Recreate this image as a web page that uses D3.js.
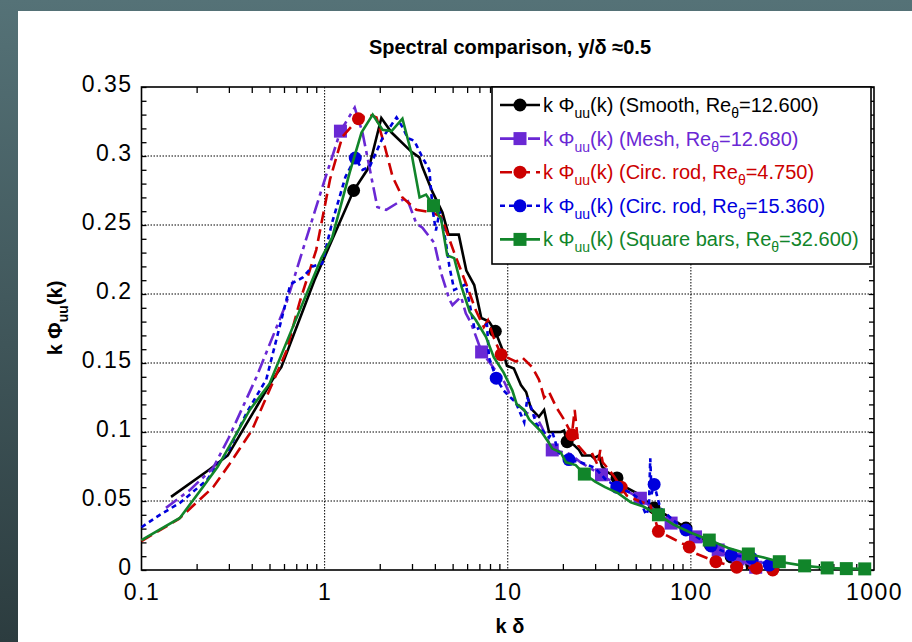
<!DOCTYPE html>
<html>
<head>
<meta charset="utf-8">
<script src="https://cdn.jsdelivr.net/npm/d3@7"></script>
<style>
  body { margin: 0; background: #3f5559; }
  svg { display: block; font-family: "Liberation Sans", Arial, sans-serif; }
</style>
</head>
<body>
<svg id="chart" width="912" height="642"></svg>
<script>
// data: [k delta, k*Phi_uu, marker?]
const smooth = [[0.145,0.053],[0.236,0.073],[0.296,0.083],[0.52,0.138],[0.58,0.147],[0.88,0.21],[1.44,0.275,1],[1.71,0.29],[1.78,0.296],[2.04,0.3275],[2.32,0.317],[2.98,0.303],[3.29,0.299],[3.42,0.292],[3.88,0.274],[4.4,0.259],[4.75,0.243],[5.4,0.243],[5.94,0.217],[6.56,0.2065],[7.17,0.1826],[7.9,0.18],[8.55,0.173,1],[9.4,0.159],[9.9,0.148],[10.8,0.146],[11.8,0.134],[12.6,0.129],[13.4,0.117],[14.8,0.111],[15.8,0.116],[16.8,0.1],[19.5,0.1],[20.3,0.101],[21.1,0.093,1],[23,0.0906],[24.5,0.087],[25.5,0.083],[28.5,0.083],[29.6,0.081],[31.5,0.083],[32.7,0.075],[35,0.071],[39.5,0.0667,1],[44,0.06],[50.6,0.0558],[58.8,0.0486],[63,0.045,1],[73,0.04],[94,0.0304,1],[128,0.018,1],[166,0.0094,1],[215,0.004,1]];
const mesh = [[0.136,0.045],[0.184,0.058],[0.246,0.074],[0.30,0.096],[0.425,0.14],[0.62,0.194],[0.76,0.232],[0.975,0.278],[1.22,0.318,1],[1.46,0.335],[1.61,0.317],[1.94,0.263],[2.17,0.261],[2.8,0.27],[3.17,0.251],[3.42,0.248],[3.97,0.237],[4.33,0.215],[4.8,0.196],[4.99,0.192],[5.56,0.198],[5.9,0.186],[6.3,0.179],[7.2,0.158,1],[9.6,0.136],[10.2,0.128],[10.8,0.123],[12.6,0.114],[14.3,0.111],[15.3,0.104],[17.5,0.087,1],[19.8,0.0855],[22,0.084],[25,0.078],[28,0.074],[32.5,0.069,1],[38,0.063],[45,0.057],[53,0.052,1],[64,0.043],[78,0.034,1],[92,0.029],[106,0.024,1],[122,0.019],[141,0.0145,1],[181,0.008,1],[226,0.002,1]];
const rod4750 = [[0.1,0.021],[0.16,0.037],[0.246,0.06],[0.30,0.076],[0.40,0.101],[0.53,0.138],[0.62,0.159],[0.73,0.194],[0.9,0.232],[1.07,0.283],[1.25,0.314],[1.53,0.327,1],[1.76,0.33],[1.92,0.328],[2.13,0.307],[2.35,0.285],[2.66,0.27],[3.17,0.261],[3.88,0.259],[4.33,0.256],[4.67,0.244],[5.1,0.23],[5.9,0.208],[6.7,0.188],[7.4,0.176],[7.8,0.181],[8.4,0.168],[9.2,0.156,1],[11.1,0.151],[12,0.154],[13.6,0.147],[14.8,0.138],[15.8,0.125],[16.8,0.129],[18.4,0.118],[20.3,0.109],[22.4,0.098,1],[23.2,0.116],[24.3,0.09],[27,0.083],[29,0.084],[31,0.076],[32,0.087],[33,0.078],[35,0.074],[38,0.068],[41.6,0.06,1],[44.6,0.054],[52,0.05],[60,0.047],[64,0.036],[66.5,0.028,1],[79,0.023],[98,0.0167,1],[106,0.012],[137,0.006,1],[178,0.002,1],[228,0.0013,1],[280,0.0,1]];
const rod15360 = [[0.1,0.031],[0.126,0.04],[0.162,0.0486],[0.227,0.065],[0.30,0.087],[0.375,0.114],[0.48,0.138],[0.65,0.207],[0.76,0.212],[0.86,0.22],[0.97,0.222],[1.1,0.252],[1.3,0.285],[1.47,0.2985,1],[1.61,0.29],[1.76,0.292],[2.07,0.313],[2.47,0.328],[2.66,0.321],[2.84,0.313],[3.09,0.311],[3.42,0.299],[3.73,0.29],[3.9,0.26],[4.05,0.246],[4.25,0.26],[4.6,0.237],[4.8,0.22],[5.1,0.203],[5.5,0.205],[5.9,0.207],[6.6,0.174],[7.2,0.176],[7.7,0.178],[7.9,0.154],[8.65,0.139,1],[9.5,0.13],[11.1,0.121],[12.3,0.107],[12.8,0.125],[13.4,0.118],[14.3,0.106],[16.8,0.096],[17.5,0.1],[19,0.085],[21.6,0.08,1],[25,0.078],[30,0.074],[34,0.066],[39.4,0.06,1],[46,0.0565],[52,0.052],[57,0.04],[59,0.045],[60,0.081],[61,0.055],[63,0.062,1],[68,0.045],[80,0.036],[94,0.029,1],[129,0.0174,1],[166,0.011,1],[214,0.0087,1],[268,0.0036,1]];
const squareBars = [[0.1,0.0217],[0.162,0.0377],[0.216,0.06],[0.26,0.0746],[0.315,0.094],[0.39,0.116],[0.5,0.135],[0.67,0.176],[0.96,0.226],[1.1,0.241],[1.37,0.288],[1.59,0.317],[1.83,0.33],[2.07,0.319],[2.32,0.318],[2.66,0.327],[2.98,0.302],[3.3,0.27],[3.58,0.272],[3.93,0.264,1],[4.33,0.254],[4.67,0.228],[5.1,0.226],[5.6,0.205],[6.2,0.187],[6.7,0.181],[7.6,0.169],[8.4,0.154],[9.5,0.143],[10.6,0.13],[11.2,0.12],[12.3,0.116],[13.1,0.109],[14.3,0.104],[15.3,0.1],[16.8,0.092],[17.5,0.088],[19.5,0.085],[20.8,0.078],[23.5,0.076],[26.2,0.0695,1],[30,0.064],[34,0.06],[40,0.0557],[47,0.049],[55,0.046],[66.5,0.04,1],[80,0.033],[100,0.027],[126,0.0217,1],[160,0.016],[206,0.0116,1],[250,0.009],[304,0.006,1],[418,0.003,1],[555,0.0015,1],[706,0.001,1],[890,0.0008,1]];

const seriesNames = ["Smooth", "Mesh", "Circ. rod", "Circ. rod", "Square bars"];
const reTheta = ["12.600", "12.680", "4.750", "15.360", "32.600"];
const xTicks = [0.1, 1, 10, 100, 1000];
const yTicks = [0, 0.05, 0.1, 0.15, 0.2, 0.25, 0.3, 0.35];

const series = [
  { data: smooth,     color: "#000000", dash: null,        shape: "circle" },
  { data: mesh,       color: "#6a28d4", dash: "14,5,4,5",  shape: "square" },
  { data: rod4750,    color: "#cc0000", dash: "12,6",      shape: "circle" },
  { data: rod15360,   color: "#0000dd", dash: "5,4",       shape: "circle" },
  { data: squareBars, color: "#11852a", dash: null,        shape: "square" }
];

const svg = d3.select("#chart");

// dark backdrop + white panel
const grad = svg.append("defs").append("linearGradient")
  .attr("id", "bg").attr("x1", 0).attr("y1", 0).attr("x2", 0).attr("y2", 1);
grad.append("stop").attr("offset", "0%").attr("stop-color", "#557277");
grad.append("stop").attr("offset", "100%").attr("stop-color", "#2c3c3f");
svg.append("rect").attr("width", 912).attr("height", 642).attr("fill", "url(#bg)");
svg.append("rect").attr("x", 18).attr("y", 11).attr("width", 894).attr("height", 631).attr("fill", "#fff");

const pLeft = 141.5, pRight = 874, pTop = 87, pBottom = 570;
const x = d3.scaleLog().domain([0.1, 1000]).range([pLeft, pRight]);
const y = d3.scaleLinear().domain([0, 0.35]).range([pBottom, pTop]);

const minorX = [];
[0.1, 1, 10, 100].forEach(d => { for (let i = 2; i <= 9; i++) minorX.push(d * i); });
const minorY = d3.range(0, 0.3501, 0.01);

// grid
const grid = svg.append("g").attr("stroke", "#000").attr("stroke-width", 1).attr("stroke-dasharray", "1.5,1.5");
xTicks.slice(1, -1).forEach(v => {
  grid.append("line").attr("x1", x(v)).attr("x2", x(v)).attr("y1", pTop).attr("y2", pBottom);
});
yTicks.slice(1, -1).forEach(v => {
  grid.append("line").attr("x1", pLeft).attr("x2", pRight).attr("y1", y(v)).attr("y2", y(v));
});

// ticks on all four sides, pointing in
function styleAxis(g) {
  g.select(".domain").remove();
  g.selectAll("line").attr("stroke", "#000").attr("stroke-width", 1.3);
}
svg.append("g").attr("transform", `translate(0,${pBottom})`)
  .call(d3.axisBottom(x).tickValues(minorX).tickSize(-6).tickFormat("")).call(styleAxis);
svg.append("g").attr("transform", `translate(0,${pTop})`)
  .call(d3.axisTop(x).tickValues(minorX).tickSize(-6).tickFormat("")).call(styleAxis);
svg.append("g").attr("transform", `translate(${pLeft},0)`)
  .call(d3.axisLeft(y).tickValues(minorY).tickSize(-5).tickFormat("")).call(styleAxis);
svg.append("g").attr("transform", `translate(${pRight},0)`)
  .call(d3.axisRight(y).tickValues(minorY).tickSize(-5).tickFormat("")).call(styleAxis);

const xAxis = svg.append("g").attr("transform", `translate(0,${pBottom})`)
  .call(d3.axisBottom(x).tickValues(xTicks).tickSize(0).tickPadding(14).tickFormat(d3.format("")));
xAxis.call(styleAxis);
xAxis.selectAll("text").attr("font-size", 23).attr("fill", "#000")
  .attr("font-family", "Liberation Sans, Arial, sans-serif").style("letter-spacing", "1.5px");

const yAxis = svg.append("g").attr("transform", `translate(${pLeft},0)`)
  .call(d3.axisLeft(y).tickValues(yTicks).tickSize(0).tickPadding(9).tickFormat(d => d3.format("")(+d.toFixed(2))));
yAxis.call(styleAxis);
yAxis.selectAll("text").attr("font-size", 23).attr("fill", "#000").attr("dy", "0.2em")
  .attr("font-family", "Liberation Sans, Arial, sans-serif").style("letter-spacing", "1.5px");

// frame
svg.append("rect").attr("x", pLeft).attr("y", pTop).attr("width", pRight - pLeft).attr("height", pBottom - pTop)
  .attr("fill", "none").attr("stroke", "#000").attr("stroke-width", 1.6);

// curves
const line = d3.line().x(d => x(d[0])).y(d => y(d[1]));
const plot = svg.append("g");
function marker(g, shape, color, cx, cy) {
  if (shape === "circle") {
    g.append("circle").attr("cx", cx).attr("cy", cy).attr("r", 6.5).attr("fill", color);
  } else {
    g.append("rect").attr("x", cx - 6.5).attr("y", cy - 6.5).attr("width", 13).attr("height", 13).attr("fill", color);
  }
}
series.forEach(s => {
  plot.append("path").datum(s.data)
    .attr("d", line)
    .attr("fill", "none")
    .attr("stroke", s.color)
    .attr("stroke-width", 2.6)
    .attr("stroke-dasharray", s.dash);
  s.data.filter(d => d[2]).forEach(d => marker(plot, s.shape, s.color, x(d[0]), y(d[1])));
});

// legend
const lg = svg.append("g");
lg.append("rect").attr("x", 492).attr("y", pTop).attr("width", 379).attr("height", 177)
  .attr("fill", "#fff").attr("stroke", "#000").attr("stroke-width", 1.6);
series.forEach((s, i) => {
  const ry = 105 + i * 33.6;
  lg.append("line").attr("x1", 500).attr("x2", 540).attr("y1", ry).attr("y2", ry)
    .attr("stroke", s.color).attr("stroke-width", 2.6).attr("stroke-dasharray", s.dash);
  marker(lg, s.shape, s.color, 520, ry);
  const t = lg.append("text").attr("x", 543).attr("y", ry + 7).attr("font-size", 20).attr("fill", s.color);
  t.append("tspan").text("k \u03A6");
  t.append("tspan").attr("font-size", 14).attr("dy", 6).text("uu");
  t.append("tspan").attr("dy", -6).text(`(k) (${seriesNames[i]}, Re`);
  t.append("tspan").attr("font-size", 14).attr("dy", 6).text("\u03B8");
  t.append("tspan").attr("dy", -6).text(`=${reTheta[i]})`);
});

// titles
svg.append("text").attr("x", 510).attr("y", 54).attr("text-anchor", "middle")
  .attr("font-size", 20).attr("font-weight", "bold").text("Spectral comparison, y/\u03B4 \u22480.5");
svg.append("text").attr("x", 510).attr("y", 633).attr("text-anchor", "middle")
  .attr("font-size", 20).attr("font-weight", "bold").text("k \u03B4");
const yl = svg.append("text").attr("transform", "translate(62,318) rotate(-90)")
  .attr("text-anchor", "middle").attr("font-size", 20).attr("font-weight", "bold");
yl.append("tspan").text("k \u03A6");
yl.append("tspan").attr("font-size", 14).attr("dy", 6).text("uu");
yl.append("tspan").attr("dy", -6).text("(k)");
</script>
</body>
</html>
